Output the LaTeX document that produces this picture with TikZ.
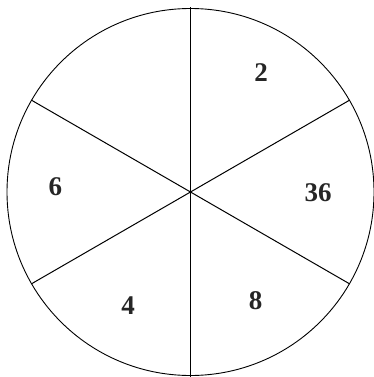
\documentclass[tikz,border=0pt]{standalone}
\usepackage{fontspec}
\setmainfont{Liberation Serif}
\begin{document}
\begin{tikzpicture}[x=1pt,y=-1pt,
  lbl/.style={font=\fontsize{27}{27}\selectfont\bfseries, text=black!85, inner sep=0pt, anchor=base},
  rim/.style={draw=black, line width=0.9pt},
  spoke/.style={draw=black, line width=1pt}]
\useasboundingbox[fill=white] (0,0) rectangle (373,377);
\coordinate (c) at (190.5,192);
\draw[rim] (c) circle[radius=183.5];
\path (c) ++(0,-184.5) coordinate (t)
      (c) ++(0,185) coordinate (b)
      (c) ++(30:183.5) coordinate (ru)
      (c) ++(-30:183.5) coordinate (rd)
      (c) ++(150:183.5) coordinate (lu)
      (c) ++(210:183.5) coordinate (ld);
\draw[spoke] (t) -- (b);
\draw[spoke] (lu) -- (rd);
\draw[spoke] (ld) -- (ru);
\node[lbl] (n2) at (261,82) {2};
\node[lbl] (n6) at (55.3,195.7) {6};
\node[lbl] (n36) at (318,201) {36};
\node[lbl] (n4) at (128,314) {4};
\node[lbl] (n8) at (255.7,309) {8};
\end{tikzpicture}
\end{document}
